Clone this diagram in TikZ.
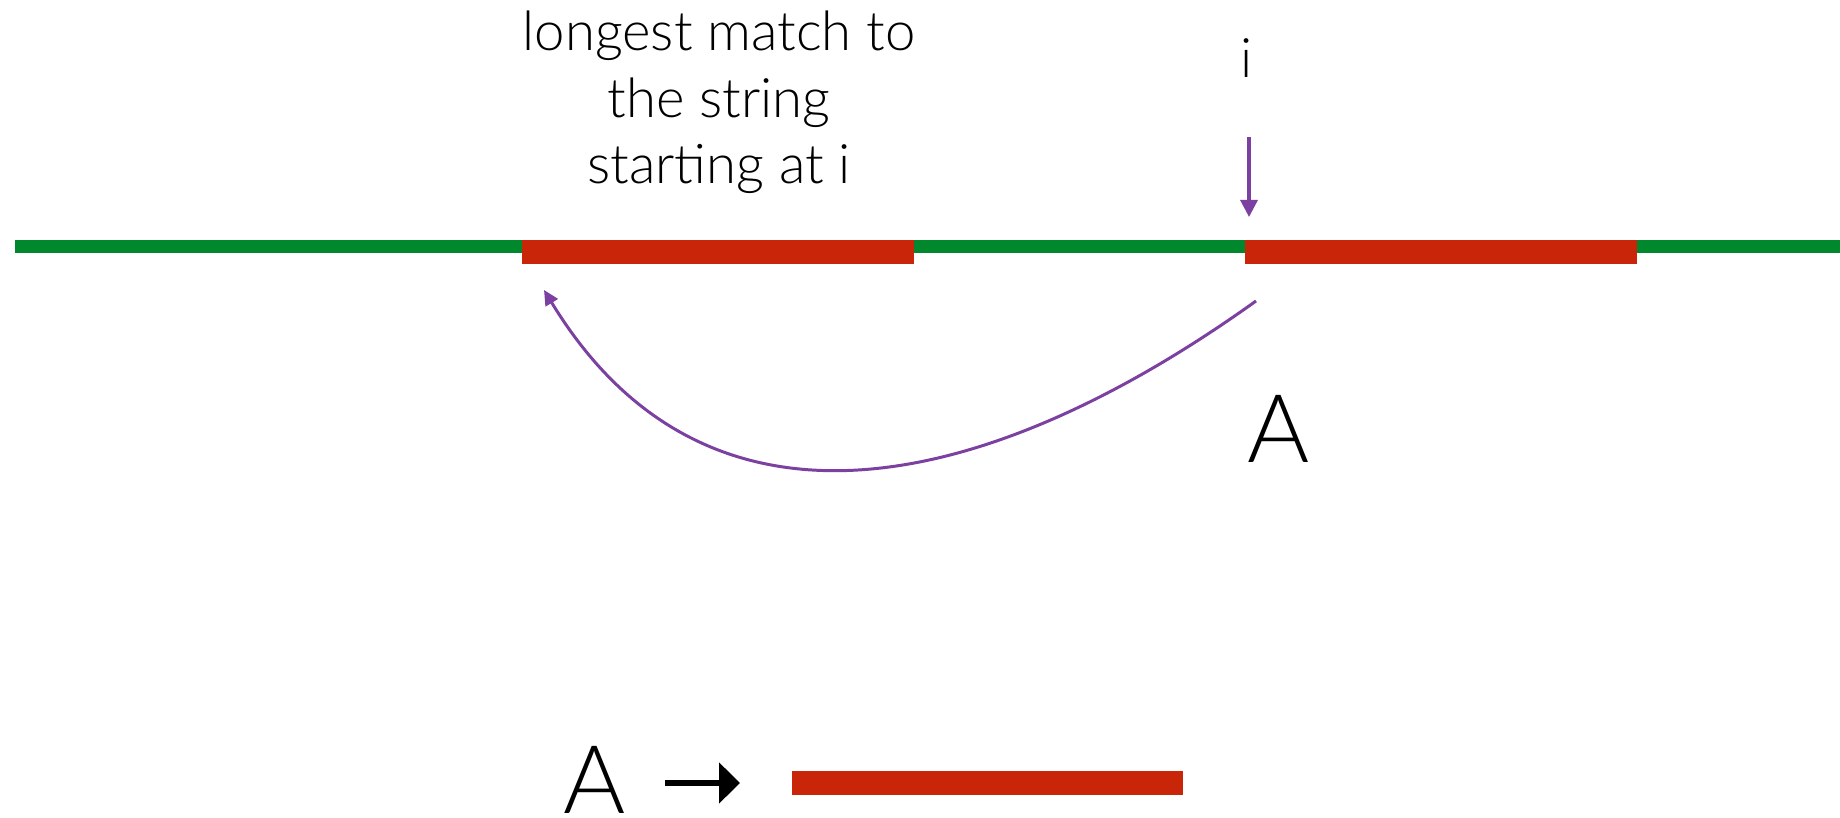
\documentclass[tikz,border=0pt]{standalone}
\usepackage{fontspec}
\setmainfont{Lato}[UprightFont=* Light]
\usetikzlibrary{arrows.meta}

\begin{document}
\begin{tikzpicture}
    \definecolor{stringColour}{HTML}{01882D}
    \definecolor{matchColour}{HTML}{C92508}
    \definecolor{pointerColour}{HTML}{7B40A0}

    \def\barHeight{0.24}

    \useasboundingbox (0,0) rectangle (18.4,8.18);

    % Draw the string
    \draw[stringColour, line width=0.13cm] (0.15,5.715) -- (18.4,5.715);

    % Draw the two matching pieces
    \fill[matchColour] (5.22,5.78) rectangle (9.14,5.78-\barHeight);
    \fill[matchColour] (12.45,5.78) rectangle (16.37,5.78-\barHeight);

    % Label the match and position i
    \node[anchor=north, inner sep=0pt, align=center, font=\fontsize{15.5}{19}\selectfont] (matchText) at (7.19,8.08)
        {longest match to\\the string\\starting at i};
    \node[anchor=base, inner sep=0pt, font=\fontsize{15.5}{19}\selectfont] (iLabel) at (12.47,7.40) {i};

    % Arrow down to position i
    \coordinate (iTop) at (12.49,6.81);
    \coordinate (iTip) at (12.49,6.01);
    \draw[pointerColour, line width=0.9pt, -{Triangle[length=0.17cm, width=0.17cm]}] (iTop) -- (iTip);

    % Arrow back to the earlier match
    \coordinate (backStart) at (12.56,5.17);
    \coordinate (backTip) at (5.44,5.28);
    \draw[pointerColour, line width=0.85pt, -{Triangle[length=0.15cm, width=0.14cm]}]
        (backStart) .. controls (9.95,3.30) and (7.10,2.55) .. (backTip);
    \node[anchor=base, inner sep=0pt, font=\fontsize{27}{30}\selectfont] (copyLabel) at (12.79,3.55) {A};

    % Legend at the bottom
    \node[anchor=base, inner sep=0pt, font=\fontsize{27}{30}\selectfont] (legendA) at (5.95,0.04) {A};
    \coordinate (legStart) at (6.65,0.35);
    \coordinate (legTip) at (7.40,0.35);
    \draw[black, line width=0.06cm, -{Triangle[length=0.21cm, width=0.40cm]}] (legStart) -- (legTip);
    \fill[matchColour] (7.92,0.47) rectangle (11.83,0.47-\barHeight);

\end{tikzpicture}
\end{document}
